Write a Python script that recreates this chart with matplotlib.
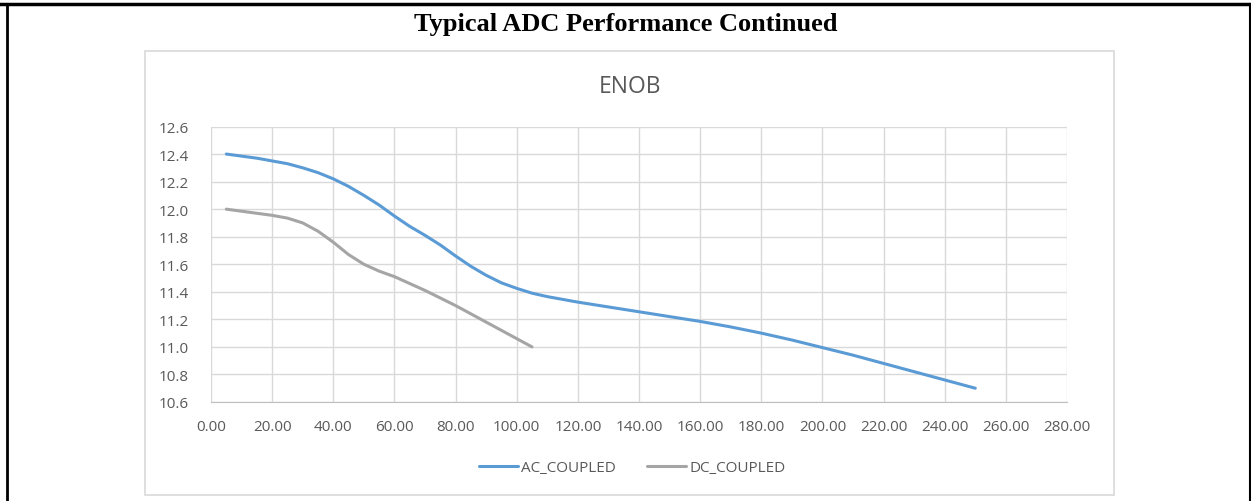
import matplotlib
matplotlib.use("Agg")
import matplotlib.pyplot as plt
from matplotlib.patches import Rectangle
from matplotlib.lines import Line2D

# data
ac_freq = [5, 10, 15, 20, 25, 30, 35, 40, 45, 50, 55, 60, 65, 70, 75, 80, 85, 90, 95, 100,
           105, 110, 120, 130, 140, 150, 160, 170, 180, 190, 200, 210, 220, 235, 250]
ac_enob = [12.40, 12.385, 12.37, 12.35, 12.33, 12.30, 12.265, 12.22, 12.165, 12.10, 12.03, 11.95,
           11.875, 11.81, 11.74, 11.66, 11.585, 11.52, 11.465, 11.425, 11.39, 11.365, 11.325,
           11.29, 11.255, 11.22, 11.185, 11.145, 11.10, 11.05, 10.995, 10.94, 10.88, 10.79, 10.70]
dc_freq = [5, 10, 15, 20, 25, 30, 35, 40, 45, 50, 55, 60, 65, 70, 75, 80, 85, 90, 95, 100, 105]
dc_enob = [12.00, 11.985, 11.97, 11.955, 11.935, 11.90, 11.84, 11.76, 11.67, 11.60, 11.55,
           11.51, 11.46, 11.41, 11.355, 11.30, 11.24, 11.18, 11.12, 11.06, 11.00]
xticks = list(range(0, 281, 20))
yticks = [10.6, 10.8, 11.0, 11.2, 11.4, 11.6, 11.8, 12.0, 12.2, 12.4, 12.6]

W, H = 1251, 502
fig = plt.figure(figsize=(W / 100, H / 100), dpi=100)

# page frame lines
fig.add_artist(Line2D([0, 1], [1 - 5 / H, 1 - 5 / H], color="black", lw=2.5, transform=fig.transFigure))
fig.add_artist(Line2D([7 / W, 7 / W], [0, 1 - 5 / H], color="black", lw=2, transform=fig.transFigure))
fig.add_artist(Line2D([1249.5 / W, 1249.5 / W], [0, 1 - 5 / H], color="black", lw=1.5, transform=fig.transFigure))

fig.text(0.5, 1 - 24 / H, "Typical ADC Performance Continued", ha="center", va="center",
         family="Liberation Serif", fontweight="bold", fontsize=19)

# chart box
fig.add_artist(Rectangle((145 / W, 1 - 496 / H), 969 / W, 444 / H, transform=fig.transFigure,
                         fill=False, edgecolor="#d9d9d9", lw=1.2))

fig.text(630 / W, 1 - 87 / H, "ENOB", ha="center", va="center", family="Open Sans",
         fontsize=16.5, color="#595959")

ax = fig.add_axes([211 / W, 1 - 403 / H, 856 / W, 275.5 / H])
ax.plot(ac_freq, ac_enob, color="#5B9BD5", lw=2.2, label="AC_COUPLED", solid_capstyle="round")
ax.plot(dc_freq, dc_enob, color="#A5A5A5", lw=2.2, label="DC_COUPLED", solid_capstyle="round")

ax.set_xlim(0, 280)
ax.set_ylim(10.6, 12.6)
ax.set_xticks(xticks)
ax.set_xticklabels([f"{v:.2f}" for v in xticks])
ax.set_yticks(yticks)
ax.set_yticklabels([f"{v:.1f}" for v in yticks])
ax.grid(True, color="#d9d9d9", lw=1)
ax.set_axisbelow(True)
for s in ["top", "right", "left"]:
    ax.spines[s].set_visible(False)
ax.spines["bottom"].set_color("#bfbfbf")
ax.tick_params(length=0, labelsize=11, colors="#595959")
ax.tick_params(axis="x", pad=12)
ax.tick_params(axis="y", pad=16)
for lab in ax.get_xticklabels() + ax.get_yticklabels():
    lab.set_family("Open Sans")

fig.legend(loc="center", bbox_to_anchor=(632 / W, 1 - 469 / H), ncol=2, frameon=False,
           prop={"family": "Open Sans", "size": 11}, labelcolor="#595959",
           handlelength=2.6, handletextpad=0.2, columnspacing=2.0)

fig.savefig("out.png", dpi=100)
